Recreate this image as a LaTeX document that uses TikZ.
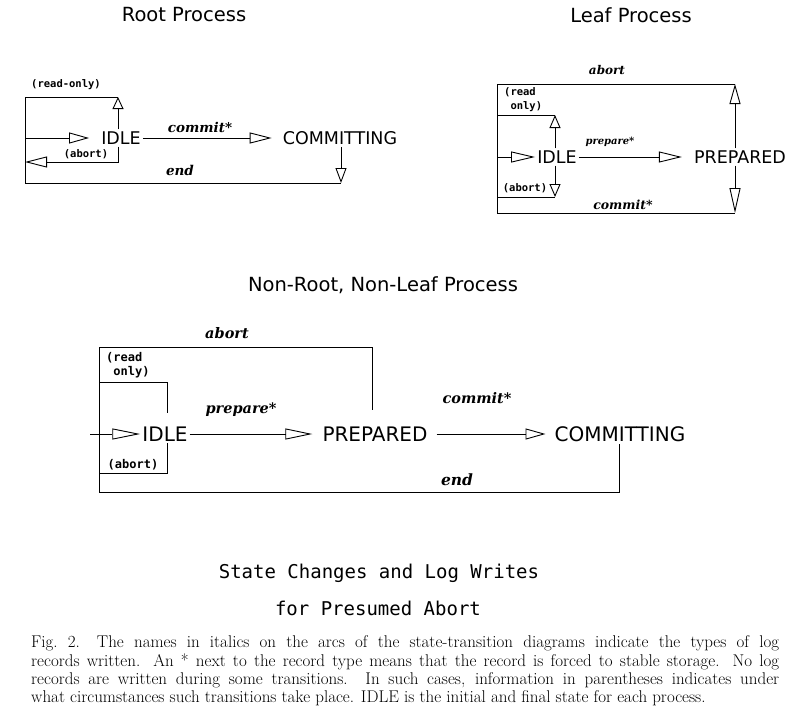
\documentclass[tikz,border=0pt]{standalone}
\usepackage{fontspec}
\setsansfont{DejaVu Sans}
\setmonofont{DejaVu Sans Mono}
\newfontfamily\recfont{DejaVu Serif}
\usetikzlibrary{arrows.meta,positioning}

\begin{document}
\begin{tikzpicture}[x=1pt,y=-1pt,
  wire/.style={line width=0.9pt},
  tri/.style={wire,-{Triangle[open,length=#1,width=11pt]}}, tri/.default=20pt,
  st/.style={font=\sffamily\fontsize{#1}{#1}\selectfont,inner sep=2pt}, st/.default=17.5,
  hdr/.style={font=\sffamily\fontsize{19.5}{22}\selectfont,inner sep=0pt},
  rec/.style={font=\recfont\bfseries\itshape\fontsize{#1}{#1}\selectfont,inner sep=0pt}, rec/.default=13.5,
  cond/.style={font=\ttfamily\bfseries\fontsize{#1}{14}\selectfont,inner sep=0pt}, cond/.default=10.5,
  big/.style={font=\ttfamily\fontsize{19}{22}\selectfont,inner sep=0pt},
  capline/.style={font=\rmfamily\fontsize{17}{18.5}\selectfont,inner sep=0pt,anchor=west}]
  \useasboundingbox (0,0) rectangle (793,720);

  % root process
  \node[hdr] (rhdr) at (184,15) {Root Process};
  \node[st] (ridle) at (121,138) {IDLE};
  \node[st] (rcom) at (340,138) {COMMITTING};
  \coordinate (rtl) at (25,97);
  \coordinate (rbl) at (25,183);
  \coordinate (rab) at (25,162);
  \coordinate (rix) at (118,0);
  \coordinate (rcx) at (341,0);
  \draw[tri,shorten >=10pt] (rtl |- ridle) -- (ridle.west);
  \draw[tri=22pt,shorten >=9pt] (ridle.east) -- (rcom.west);
  \draw[tri=12pt] (ridle.north -| rix) -- (rix |- rtl);
  \draw[wire] (rix |- rtl) -- (rtl) -- (rbl) -- (rcx |- rbl);
  \draw[tri=15pt] (rcom.south -| rcx) -- (rcx |- rbl);
  \draw[tri=22pt] (ridle.south -| rix) -- (rix |- rab) -- (rab);
  \node[cond] (rrolbl) at (66,85) {(read-only)};
  \node[cond] (rablbl) at (86,154) {(abort)};
  \node[rec] (rcomlbl) at (200,127) {commit*};
  \node[rec] (rendlbl) at (180,170) {end};

  % leaf process
  \node[hdr] (lhdr) at (631,15) {Leaf Process};
  \node[st] (lidle) at (557,157) {IDLE};
  \node[st] (lprep) at (740,157) {PREPARED};
  \coordinate (ltl) at (497,84);
  \coordinate (lbl) at (497,213);
  \coordinate (lro) at (497,115);
  \coordinate (lab) at (497,197);
  \coordinate (lix) at (555,0);
  \coordinate (lpx) at (735,0);
  \draw[tri=24pt] (lro |- lidle) -- (lidle.west);
  \draw[tri=23pt,shorten >=10pt] (lidle.east) -- (lprep.west);
  \draw[tri] (lprep.north -| lpx) -- (lpx |- ltl);
  \draw[wire] (lpx |- ltl) -- (ltl) -- (lbl) -- (lpx |- lbl);
  \draw[tri=25pt] (lprep.south -| lpx) -- (lpx |- lbl);
  \draw[tri=13pt] (lidle.north -| lix) -- (lix |- lro);
  \draw[wire] (lix |- lro) -- (lro);
  \draw[tri=13pt] (lidle.south -| lix) -- (lix |- lab);
  \draw[wire] (lix |- lab) -- (lab);
  \node[rec=12] (labtlbl) at (607,70) {abort};
  \node[cond,align=left,anchor=west] (lrolbl) at (504,100) {(read\\\phantom{(}only)};
  \node[rec=10] (lprelbl) at (610,142) {prepare*};
  \node[cond] (lablbl) at (525,188) {(abort)};
  \node[rec=12.5] (lcomlbl) at (623,205) {commit*};

  % non-root, non-leaf process
  \node[hdr] (nhdr) at (383,285) {Non-Root, Non-Leaf Process};
  \node[st=20] (nidle) at (165,434) {IDLE};
  \node[st=20] (nprep) at (375,434) {PREPARED};
  \node[st=20] (ncom) at (620,434) {COMMITTING};
  \coordinate (ntl) at (99,347);
  \coordinate (nbl) at (99,492);
  \coordinate (nro) at (99,382);
  \coordinate (nab) at (99,473);
  \coordinate (nix) at (167,0);
  \coordinate (npx) at (372,0);
  \coordinate (ncx) at (619,0);
  \draw[wire,shorten <=15pt] (nprep.north -| npx) -- (npx |- ntl) -- (ntl) -- (nbl) -- (ncx |- nbl) -- (ncom.south -| ncx);
  \draw[wire,shorten <=12pt] (nidle.north -| nix) -- (nix |- nro) -- (nro);
  \draw[wire] (nidle.south -| nix) -- (nix |- nab) -- (nab);
  \draw[tri=28pt,shorten <=-9pt] (nro |- nidle) -- (nidle.west);
  \draw[tri=27pt,shorten >=8pt] (nidle.east) -- (nprep.west);
  \draw[tri,shorten <=7pt,shorten >=7pt] (nprep.east) -- (ncom.west);
  \node[rec=14.5] (nabtlbl) at (227,333) {abort};
  \node[cond=12,align=left,anchor=west] (nrolbl) at (106,365) {(read\\\phantom{(}only)};
  \node[rec=14.5] (nprelbl) at (241,410) {prepare*};
  \node[cond=12] (nablbl) at (133,465) {(abort)};
  \node[rec=14.5] (ncomlbl) at (477,398) {commit*};
  \node[rec=15.5] (nendlbl) at (457,480) {end};

  % titles and caption
  \node[big] (mtitle) at (379,573) {State Changes and Log Writes};
  \node[big] (stitle) at (378,608) {for Presumed Abort};
  \node[capline] (cap1) at (31,643) {\makebox[748pt][s]{Fig.~2.\quad The names in italics on the arcs of the state-transition diagrams indicate the types of log}};
  \node[capline] (cap2) at (31,662) {\makebox[748pt][s]{records written. An * next to the record type means that the record is forced to stable storage. No log}};
  \node[capline] (cap3) at (31,680) {\makebox[748pt][s]{records are written during some transitions. In such cases, information in parentheses indicates under}};
  \node[capline] (cap4) at (31,698) {what circumstances such transitions take place. IDLE is the initial and final state for each process.};
\end{tikzpicture}
\end{document}
